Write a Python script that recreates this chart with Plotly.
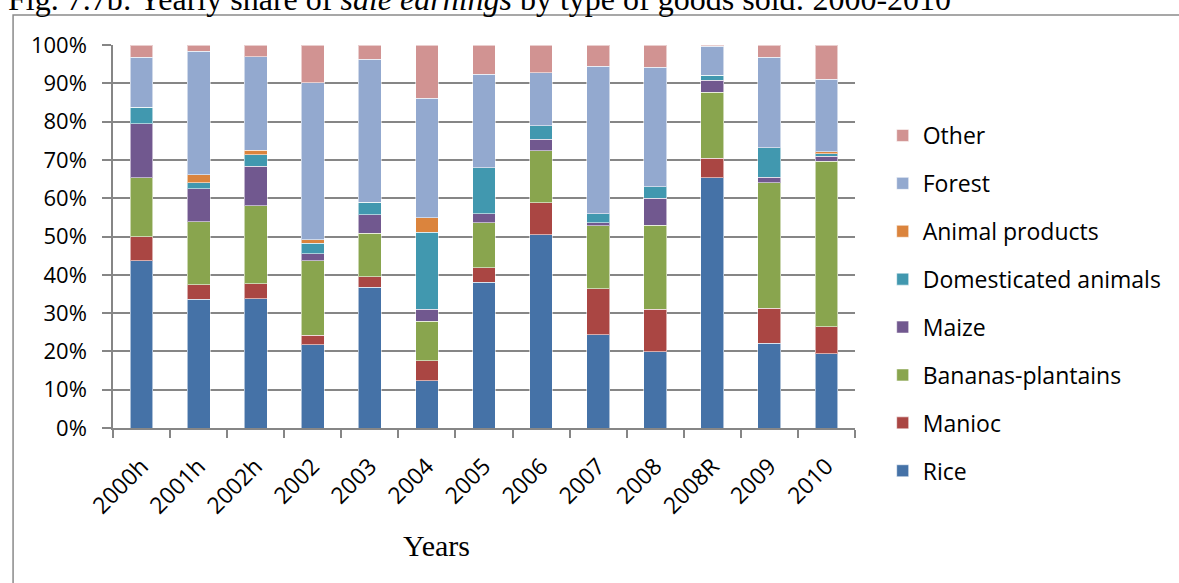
import plotly.graph_objects as go

# Yearly share (%) of sale earnings by type of goods sold
years = ["2000h", "2001h", "2002h", "2002", "2003", "2004", "2005",
         "2006", "2007", "2008", "2008R", "2009", "2010"]
rice = [43.7, 33.6, 33.8, 21.7, 36.7, 12.3, 38.0, 50.5, 24.4, 19.9, 65.4, 22.1, 19.4]
manioc = [6.3, 3.8, 3.9, 2.5, 2.8, 5.2, 3.9, 8.3, 12.0, 11.1, 5.0, 9.2, 7.0]
bananas = [15.4, 16.4, 20.3, 19.5, 11.4, 10.4, 11.7, 13.6, 16.4, 22.0, 17.2, 32.7, 43.3]
maize = [14.1, 8.7, 10.3, 1.8, 4.8, 3.1, 2.4, 3.0, 0.8, 7.0, 3.2, 1.5, 1.2]
domesticated = [4.2, 1.5, 3.1, 2.7, 3.2, 20.1, 11.9, 3.5, 2.4, 3.0, 1.3, 7.7, 0.7]
animal_products = [0, 2.1, 1.1, 1.0, 0, 3.8, 0, 0, 0, 0, 0, 0, 0.5]
forest = [13.1, 32.3, 24.4, 40.9, 37.4, 31.2, 24.4, 13.8, 38.4, 31.2, 7.6, 23.6, 19.0]
other = [3.2, 1.6, 3.1, 9.9, 3.7, 13.9, 7.7, 7.3, 5.6, 5.8, 0.3, 3.2, 8.9]

series = [
    ("Rice", rice, "#4572A7"),
    ("Manioc", manioc, "#AA4643"),
    ("Bananas-plantains", bananas, "#89A54E"),
    ("Maize", maize, "#71588F"),
    ("Domesticated animals", domesticated, "#4198AF"),
    ("Animal products", animal_products, "#DB843D"),
    ("Forest", forest, "#93A9CF"),
    ("Other", other, "#D19392"),
]

W, H = 1179, 583
L, R, T, B = 113, 863, 45, 428  # plot area in pixels


def px_x(p):
    return (p - L) / (R - L)


def px_y(p):
    return (B - p) / (B - T)


fig = go.Figure()
n = len(series)
for i, (name, vals, col) in enumerate(series):
    fig.add_trace(go.Bar(
        x=years, y=vals, name=name, legendgroup=name,
        legendrank=n - i,  # top of the stack first in the legend
        marker=dict(color=col, line=dict(color="rgba(255,255,255,0.55)", width=1)),
    ))

grid = "#868686"
tick_font = dict(family="Open Sans", size=22, color="#000000")

fig.update_layout(
    width=W, height=H,
    margin=dict(l=L, r=W - R, t=T, b=H - B),
    barmode="stack", bargap=0.6,
    plot_bgcolor="white", paper_bgcolor="white",
    showlegend=True,
    legend=dict(
        traceorder="grouped", tracegroupgap=15, maxheight=560,
        x=px_x(891), xanchor="left", y=px_y(114), yanchor="top",
        font=dict(family="Open Sans", size=23, color="#000000"),
        bgcolor="rgba(0,0,0,0)",
    ),
    xaxis=dict(
        type="category", tickangle=-45,
        tickfont=dict(family="Open Sans", size=23, color="#000000"),
        showline=True, linecolor=grid, linewidth=1.5,
        ticks="outside", tickson="boundaries", ticklen=8, tickcolor=grid, tickwidth=1.5,
        showgrid=False, ticklabelstandoff=14,
    ),
    yaxis=dict(
        range=[0, 100], dtick=10, ticksuffix="%", tickfont=tick_font,
        showline=True, linecolor=grid, linewidth=1.5,
        ticks="outside", ticklen=9, tickcolor=grid, tickwidth=1.5,
        showgrid=True, gridcolor=grid, gridwidth=1.5,
        zeroline=False, ticklabelstandoff=11,
    ),
    font=dict(family="Open Sans"),
)

# outer chart frame
fig.add_shape(type="rect", xref="paper", yref="paper",
              x0=px_x(12), x1=px_x(1300), y0=px_y(700), y1=px_y(15),
              line=dict(color="#8a8a8a", width=1.5), layer="below")

# figure caption
fig.add_annotation(
    text="Fig. 7.7b: Yearly share of <i>sale earnings</i> by type of goods sold: 2000-2010",
    xref="paper", yref="paper", x=px_x(5), y=px_y(-1),
    xanchor="left", yanchor="middle", showarrow=False,
    font=dict(family="Liberation Serif", size=32, color="#000000"),
)

# axis title
fig.add_annotation(
    text="Years", xref="paper", yref="paper", x=px_x(440), y=px_y(545),
    xanchor="center", yanchor="middle", showarrow=False,
    font=dict(family="Liberation Serif", size=30, color="#000000"),
)

fig.write_html("out.html")
